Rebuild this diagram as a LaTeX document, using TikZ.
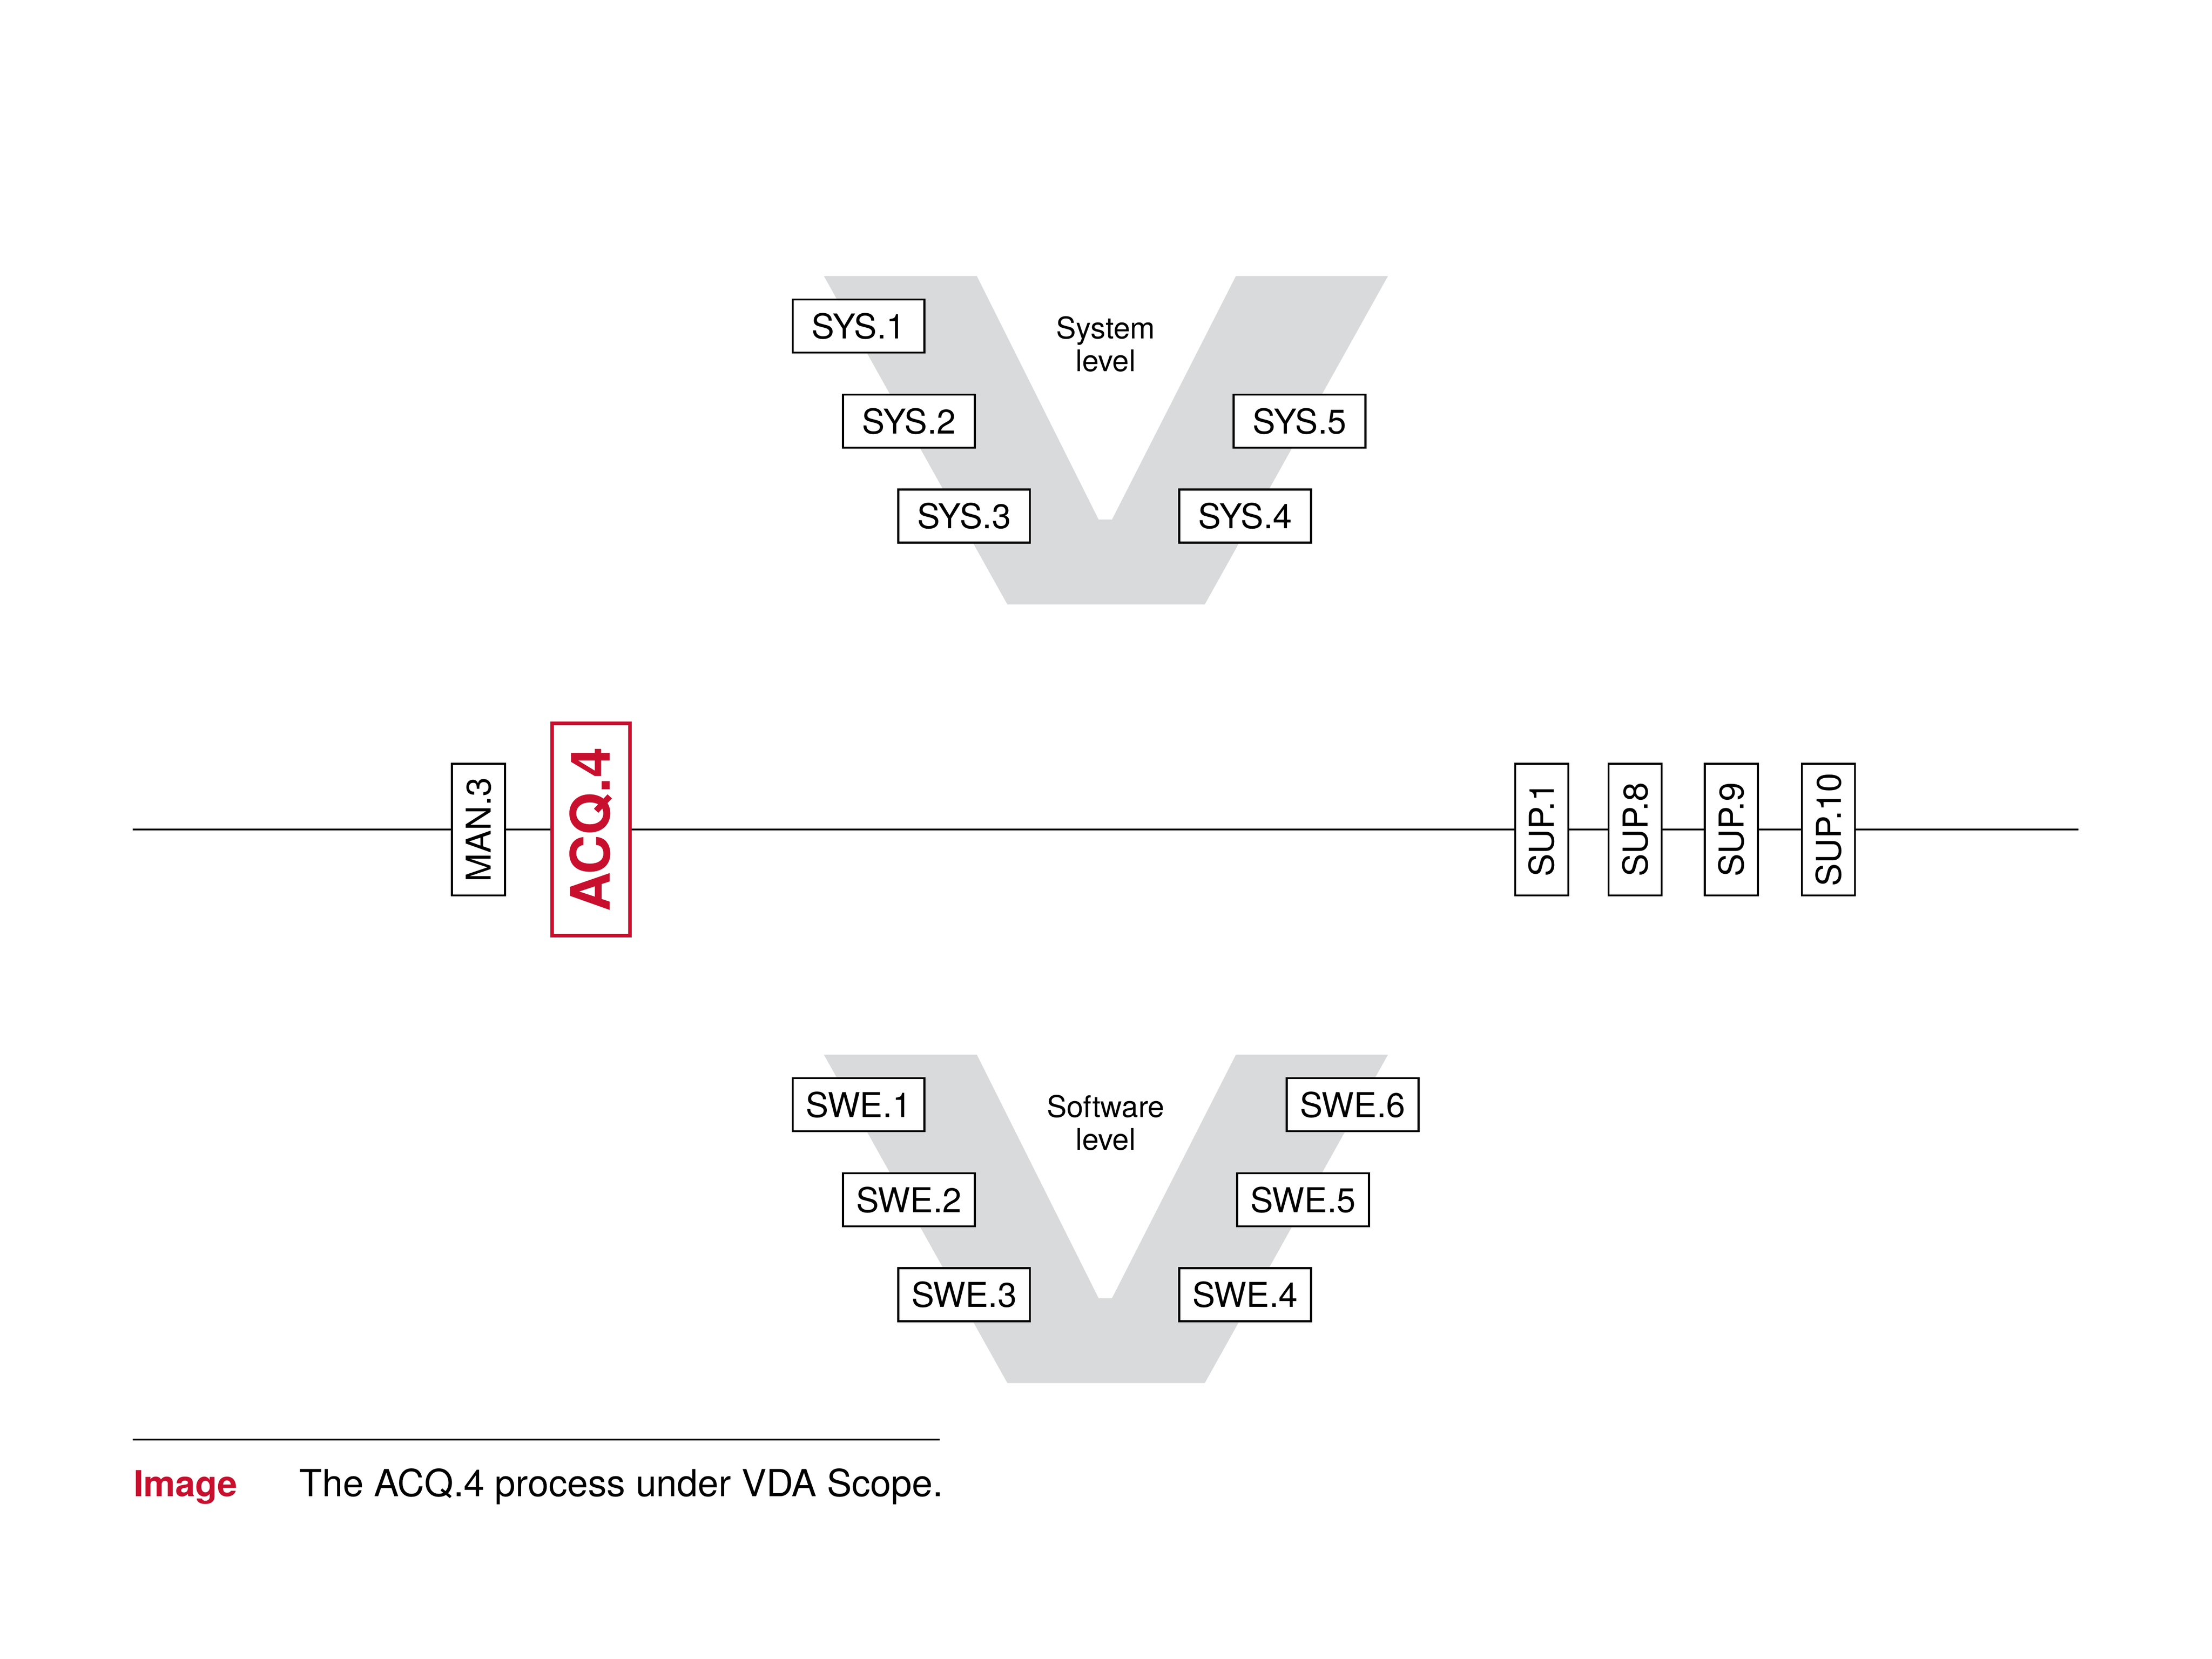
\documentclass[tikz,border=0pt]{standalone}
\usepackage{fontspec}
\setmainfont{TeX Gyre Heros}
\usepackage{tikz}
\usetikzlibrary{positioning}
\definecolor{acqred}{HTML}{C8102E}
\definecolor{vgray}{HTML}{D9DADB}

\begin{document}
\begin{tikzpicture}[x=0.016cm, y=-0.016cm, inner sep=0pt]
    \tikzstyle{proc}=[rectangle, draw=black, fill=white, line width=0.65pt, minimum width=1.49cm, minimum height=0.6cm, font=\fontsize{11}{13}\selectfont]
    \tikzstyle{vproc}=[proc, rotate=90]
    \tikzstyle{acq}=[rectangle, draw=acqred, fill=white, text=acqred, line width=1.1pt, rotate=90, minimum width=2.4cm, minimum height=0.88cm, font=\fontsize{17.5}{20}\selectfont\bfseries]
    \tikzstyle{lvl}=[align=center, font=\fontsize{9.6}{10.5}\selectfont]
    \tikzstyle{rule}=[draw=black, line width=0.55pt]

    \useasboundingbox (0,0) rectangle (1562.5,1171.875);

    % the two V backgrounds
    \foreach \dy in {0,550}
        \fill[vgray] (582,{195+\dy}) -- (690,{195+\dy}) -- (776,{367+\dy}) -- (785.5,{367+\dy})
            -- (873,{195+\dy}) -- (980.4,{195+\dy}) -- (851,{427+\dy}) -- (711.6,{427+\dy}) -- cycle;

    % system level
    \node[proc] (SYS1) at (606.5,230.3) {SYS.1};
    \node[proc] (SYS2) at (642,297.5) {SYS.2};
    \node[proc] (SYS3) at (681,364.5) {SYS.3};
    \node[proc] (SYS4) at (879.5,364.5) {SYS.4};
    \node[proc] (SYS5) at (918,297.5) {SYS.5};
    \node[lvl] (SYSlvl) at (781,243) {System\\level};

    % software level
    \node[proc] (SWE1) at (606.5,780.3) {SWE.1};
    \node[proc] (SWE2) at (642,847.5) {SWE.2};
    \node[proc] (SWE3) at (681,914.5) {SWE.3};
    \node[proc] (SWE4) at (879.5,914.5) {SWE.4};
    \node[proc] (SWE5) at (920.5,847.5) {SWE.5};
    \node[proc] (SWE6) at (955.5,780.3) {SWE.6};
    \node[lvl] (SWElvl) at (781,793) {Software\\level};

    % process line
    \coordinate (lineL) at (93.75,586);
    \coordinate (lineR) at (1468,586);
    \node[vproc] (MAN3) at (338,586) {MAN.3};
    \node[acq] (ACQ4) at (417.5,586) {ACQ.4};
    \node[vproc] (SUP1) at (1089,586) {SUP.1};
    \node[vproc] (SUP8) at (1155,586) {SUP.8};
    \node[vproc] (SUP9) at (1223,586) {SUP.9};
    \node[vproc] (SUP10) at (1291.5,586) {SUP.10};

    \draw[rule] (lineL) -- (MAN3) -- (ACQ4) -- (SUP1) -- (SUP8) -- (SUP9) -- (SUP10) -- (lineR);

    % caption
    \coordinate (capL) at (93.6,1017);
    \coordinate (capR) at (663.6,1017);
    \draw[rule] (capL) -- (capR);
    \node[anchor=base west, text=acqred, font=\fontsize{11.5}{14}\selectfont\bfseries] (imglbl) at (94,1057) {Image};
    \node[anchor=base west, font=\fontsize{12}{14}\selectfont] (caption) at (211,1057) {The ACQ.4 process under VDA Scope.};
\end{tikzpicture}
\end{document}
